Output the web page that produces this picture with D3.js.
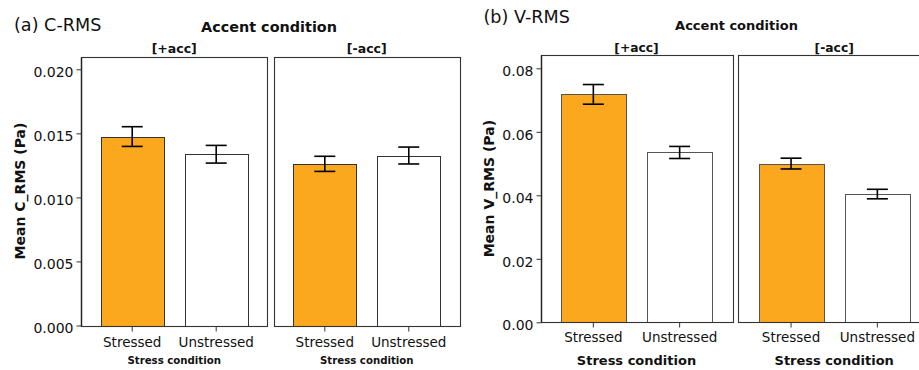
<!DOCTYPE html>
<html>
<head>
<meta charset="utf-8">
<script src="https://cdn.jsdelivr.net/npm/d3@7"></script>
<style>
  html, body { margin: 0; padding: 0; background: #fff; }
  svg { display: block; font-family: "DejaVu Sans", Verdana, sans-serif; }
</style>
</head>
<body>
<svg id="chart" width="919" height="370"></svg>
<script>
// ---- Data ----
const accentGroups = ["[+acc]", "[-acc]"];
const stressCategories = ["Stressed", "Unstressed"];

// C-RMS means and error half-widths (Pa), per accent group: [Stressed, Unstressed]
const crmsPlusAcc = [0.01475, 0.01337];
const crmsMinusAcc = [0.01262, 0.01327];
const crmsPlusAccErr = [0.00077, 0.00069];
const crmsMinusAccErr = [0.00059, 0.00066];
const crmsTicks = [0.000, 0.005, 0.010, 0.015, 0.020];
const crmsTickLabels = ["0.000", "0.005", "0.010", "0.015", "0.020"];

// V-RMS means and error half-widths (Pa)
const vrmsPlusAcc = [0.0718, 0.0535];
const vrmsMinusAcc = [0.0500, 0.0404];
const vrmsPlusAccErr = [0.0031, 0.0019];
const vrmsMinusAccErr = [0.0017, 0.0015];
const vrmsTicks = [0.00, 0.02, 0.04, 0.06, 0.08];
const vrmsTickLabels = ["0.00", "0.02", "0.04", "0.06", "0.08"];

const barColors = ["#FCA81E", "#FFFFFF"];

const svg = d3.select("#chart");

function drawChart(cfg) {
  const g = svg.append("g");
  const facet = d3.scaleBand().domain(accentGroups)
    .range([cfg.left, cfg.right]).paddingInner(cfg.facetPad);
  const y = d3.scaleLinear().domain([0, cfg.yMax]).range([cfg.bottom, cfg.top]);

  const groupValues = [cfg.plus, cfg.minus];
  const groupErrs = [cfg.plusErr, cfg.minusErr];

  accentGroups.forEach((grp, gi) => {
    const x0 = facet(grp);
    const w = facet.bandwidth();
    const x = d3.scaleBand().domain(stressCategories)
      .range([x0, x0 + w]).paddingInner(0.25).paddingOuter(0.235);
    const pg = g.append("g");

    const data = stressCategories.map((c, i) => ({
      cat: c, v: groupValues[gi][i], e: groupErrs[gi][i], color: barColors[i]
    }));

    // bars
    pg.selectAll("rect.bar").data(data).enter().append("rect")
      .attr("class", "bar")
      .attr("x", d => Math.round(x(d.cat)) + 0.5)
      .attr("y", d => Math.round(y(d.v)) + 0.5)
      .attr("width", Math.round(x.bandwidth()))
      .attr("height", d => Math.round(y(0)) - Math.round(y(d.v)))
      .attr("fill", d => d.color)
      .attr("stroke", cfg.barStroke)
      .attr("stroke-width", 1);

    // error bars
    const eb = pg.selectAll("g.err").data(data).enter().append("g")
      .attr("stroke", "#000").attr("stroke-width", 1.6).attr("fill", "none");
    const cx = d => x(d.cat) + x.bandwidth() / 2;
    eb.append("line")
      .attr("x1", cx).attr("x2", cx)
      .attr("y1", d => y(d.v + d.e)).attr("y2", d => y(d.v - d.e));
    eb.append("line")
      .attr("x1", d => cx(d) - cfg.capW / 2).attr("x2", d => cx(d) + cfg.capW / 2)
      .attr("y1", d => y(d.v + d.e)).attr("y2", d => y(d.v + d.e));
    eb.append("line")
      .attr("x1", d => cx(d) - cfg.capW / 2).attr("x2", d => cx(d) + cfg.capW / 2)
      .attr("y1", d => y(d.v - d.e)).attr("y2", d => y(d.v - d.e));

    // panel frame
    pg.append("rect")
      .attr("x", Math.round(x0) + 0.5).attr("y", Math.round(cfg.top) + 0.5)
      .attr("width", Math.round(w)).attr("height", Math.round(cfg.bottom) - Math.round(cfg.top))
      .attr("fill", "none").attr("stroke", "#333").attr("stroke-width", 1.1);

    // x axis (ticks and labels)
    const xAxis = d3.axisBottom(x).tickSize(5).tickPadding(cfg.xLabelPad);
    const xa = pg.append("g").attr("transform", `translate(0,${Math.round(cfg.bottom) + 0.5})`).call(xAxis);
    xa.select(".domain").remove();
    xa.selectAll(".tick line").attr("stroke", "#333");
    xa.selectAll(".tick text").attr("font-size", "13.5px").attr("fill", "#111")
      .attr("font-family", "DejaVu Sans, sans-serif");

    // strip label
    pg.append("text")
      .attr("x", x0 + w / 2).attr("y", cfg.stripY)
      .attr("text-anchor", "middle").attr("font-weight", "bold")
      .attr("font-size", cfg.stripSize + "px").attr("fill", "#111")
      .text(grp);

    // x axis title
    pg.append("text")
      .attr("x", x0 + w / 2).attr("y", cfg.xTitleY)
      .attr("text-anchor", "middle").attr("font-weight", "bold")
      .attr("font-size", cfg.xTitleSize + "px").attr("fill", "#111")
      .text("Stress condition");
  });

  // y axis
  const yAxis = d3.axisLeft(y).tickValues(cfg.ticks)
    .tickFormat((d, i) => cfg.tickLabels[i]).tickSize(5).tickPadding(3);
  const ya = g.append("g").attr("transform", `translate(${Math.round(cfg.left) + 0.5},0)`).call(yAxis);
  ya.select(".domain").attr("stroke", "#222").attr("stroke-width", 1.4)
    .attr("d", `M0,${Math.round(cfg.top) + 0.5}V${Math.round(cfg.bottom) + 0.5}`);
  ya.selectAll(".tick line").attr("stroke", "#333");
  ya.selectAll(".tick text").attr("font-size", "14px").attr("fill", "#111")
    .attr("font-family", "DejaVu Sans, sans-serif").attr("dy", "0.52em");

  // y title
  g.append("text")
    .attr("transform", `translate(${cfg.yTitleX},${(cfg.top + cfg.bottom) / 2}) rotate(-90)`)
    .attr("text-anchor", "middle").attr("font-weight", "bold")
    .attr("font-size", "14px").attr("fill", "#111")
    .text(cfg.yTitle);

  // accent title
  g.append("text")
    .attr("x", cfg.accentX).attr("y", cfg.accentY)
    .attr("text-anchor", "middle").attr("font-weight", "bold")
    .attr("font-size", cfg.accentSize + "px").attr("fill", "#111")
    .text("Accent condition");

  // panel title
  g.append("text")
    .attr("x", cfg.titleX).attr("y", cfg.titleY)
    .attr("font-size", "17.6px").attr("fill", "#111")
    .text(cfg.title);
}

drawChart({
  left: 81, right: 460, top: 56.5, bottom: 325.5, facetPad: 0.032,
  yMax: 0.021, ticks: crmsTicks, tickLabels: crmsTickLabels,
  plus: crmsPlusAcc, minus: crmsMinusAcc, plusErr: crmsPlusAccErr, minusErr: crmsMinusAccErr,
  capW: 21, barStroke: "#333", xLabelPad: 6,
  stripY: 52.5, stripSize: 12.5, xTitleY: 364, xTitleSize: 10.2,
  yTitle: "Mean C_RMS (Pa)", yTitleX: 25,
  accentX: 269, accentY: 31.5, accentSize: 14.4,
  title: "(a) C-RMS", titleX: 14, titleY: 30.5
});

drawChart({
  left: 540.7, right: 930, top: 55, bottom: 322.3, facetPad: 0.031,
  yMax: 0.0842, ticks: vrmsTicks, tickLabels: vrmsTickLabels,
  plus: vrmsPlusAcc, minus: vrmsMinusAcc, plusErr: vrmsPlusAccErr, minusErr: vrmsMinusAccErr,
  capW: 21, barStroke: "#555", xLabelPad: 4.5,
  stripY: 52, stripSize: 12.3, xTitleY: 365, xTitleSize: 13,
  yTitle: "Mean V_RMS (Pa)", yTitleX: 494,
  accentX: 736.5, accentY: 30, accentSize: 13,
  title: "(b) V-RMS", titleX: 483.5, titleY: 22.5
});
</script>
</body>
</html>
